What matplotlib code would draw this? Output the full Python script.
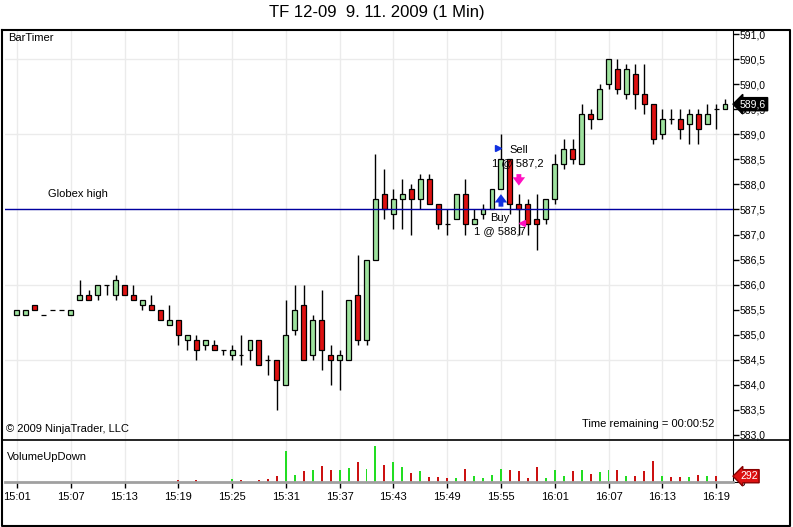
import matplotlib
matplotlib.use('Agg')
import numpy as np
import matplotlib.pyplot as plt
from matplotlib.lines import Line2D
from matplotlib.transforms import blended_transform_factory

# one-minute bars, 15:01 .. 16:20
opens = [585.4, 585.4, 585.6, 585.4, 585.5, 585.5, 585.4, 585.7, 585.8, 585.8,
         586.0, 585.8, 586.0, 585.8, 585.6, 585.6, 585.5, 585.2, 585.3, 584.9,
         584.9, 584.8, 584.8, 584.7, 584.6, 584.6, 584.7, 584.9, 584.5, 584.5,
         584.0, 585.1, 585.6, 584.6, 585.3, 584.6, 584.5, 584.5, 585.8, 584.9,
         586.5, 587.8, 587.4, 587.7, 587.9, 587.7, 588.1, 587.6, 587.2, 587.3,
         587.8, 587.2, 587.4, 587.5, 587.9, 588.5, 587.6, 587.6, 587.3, 587.3,
         587.7, 588.4, 588.7, 588.4, 589.4, 589.3, 590.0, 590.3, 589.8, 590.2,
         589.8, 589.6, 589.0, 589.3, 589.3, 589.2, 589.4, 589.2, 589.5, 589.5]
highs = [585.5, 585.5, 585.6, 585.4, 585.5, 585.5, 585.5, 586.1, 585.9, 586.0,
         586.0, 586.2, 586.0, 586.0, 585.7, 585.8, 585.5, 585.6, 585.3, 585.0,
         585.0, 584.9, 584.9, 584.7, 584.8, 585.0, 584.9, 584.9, 584.6, 584.5,
         585.7, 586.0, 586.0, 585.4, 585.9, 584.8, 584.7, 585.7, 586.6, 586.5,
         588.6, 588.3, 587.9, 588.1, 588.0, 588.2, 588.2, 587.6, 587.5, 587.8,
         588.1, 587.5, 587.6, 587.9, 589.0, 588.5, 587.8, 587.7, 587.8, 587.7,
         588.6, 588.9, 588.9, 589.6, 589.5, 590.0, 590.5, 590.5, 590.4, 590.4,
         590.4, 589.6, 589.5, 589.5, 589.5, 589.5, 589.5, 589.6, 589.6, 589.7]
lows = [585.4, 585.4, 585.5, 585.4, 585.5, 585.5, 585.4, 585.7, 585.7, 585.7,
        585.8, 585.7, 585.8, 585.7, 585.5, 585.5, 585.3, 585.2, 584.8, 584.7,
        584.5, 584.7, 584.7, 584.6, 584.5, 584.4, 584.5, 584.4, 584.2, 583.5,
        584.0, 585.0, 584.5, 584.5, 584.3, 584.0, 583.9, 584.5, 584.8, 584.8,
        586.5, 587.3, 587.1, 587.1, 587.0, 587.5, 587.6, 587.1, 587.0, 587.3,
        587.0, 587.2, 587.3, 587.5, 587.9, 587.4, 587.0, 587.0, 586.7, 587.2,
        587.6, 588.3, 588.4, 588.4, 589.1, 589.3, 589.9, 589.8, 589.7, 589.5,
        589.4, 588.8, 588.9, 589.2, 588.9, 588.8, 588.8, 589.2, 589.1, 589.5]
closes = [585.5, 585.5, 585.5, 585.4, 585.5, 585.5, 585.5, 585.8, 585.7, 586.0,
          586.0, 586.1, 585.8, 585.7, 585.7, 585.5, 585.3, 585.3, 585.0, 585.0,
          584.7, 584.9, 584.7, 584.7, 584.7, 584.6, 584.9, 584.4, 584.5, 584.1,
          585.0, 585.5, 584.5, 585.3, 584.7, 584.5, 584.6, 585.7, 584.9, 586.5,
          587.7, 587.5, 587.7, 587.8, 587.7, 588.1, 587.6, 587.2, 587.2, 587.8,
          587.2, 587.3, 587.5, 587.9, 588.5, 587.6, 587.5, 587.2, 587.2, 587.7,
          588.4, 588.7, 588.5, 589.4, 589.3, 589.9, 590.5, 589.9, 590.3, 589.8,
          589.6, 588.9, 589.3, 589.3, 589.1, 589.4, 589.1, 589.4, 589.5, 589.6]
# volume for the finished bars (15:01 .. 16:19)
volumes = [0, 0, 0, 0, 0, 0, 0, 0, 0, 0,
           0, 0, 0, 0, 0, 0, 0, 0, 85, 0,
           85, 0, 0, 0, 136, 85, 0, 85, 136, 289,
           1581, 340, 561, 595, 816, 595, 595, 714, 1003, 646,
           1819, 867, 1010, 748, 459, 544, 238, 238, 187, 187,
           646, 306, 187, 357, 646, 595, 544, 187, 748, 187,
           595, 306, 544, 595, 408, 510, 595, 595, 306, 306,
           544, 1054, 306, 238, 238, 238, 357, 306, 292]
tick_labels = ['15:01', '15:07', '15:13', '15:19', '15:25', '15:31', '15:37',
               '15:43', '15:49', '15:55', '16:01', '16:07', '16:13', '16:19']
globex_high = 587.5
last_price = 589.6
last_volume = 292

W, H = 793, 527
UP, DOWN = '#9ee29e', '#dd1111'
VUP, VDOWN = '#22dd22', '#cc1111'
FONT = ['Liberation Sans', 'DejaVu Sans']
plt.rcParams['font.family'] = FONT
TXT = 8

fig = plt.figure(figsize=(W / 100, H / 100), dpi=100)


def px_axes(x0, y0, x1, y1):
    return fig.add_axes([x0 / W, 1 - y1 / H, (x1 - x0) / W, (y1 - y0) / H])


ax = px_axes(5, 30, 733, 439)
axv = px_axes(5, 440, 733, 482)

bars = np.arange(1, len(opens) + 1)
o, h, l, c = map(np.array, (opens, highs, lows, closes))
tick_pos = bars[::6][:len(tick_labels)]

# grid
for a in (ax, axv):
    for t in tick_pos:
        a.axvline(t, color='#ebebeb', lw=1, zorder=0)
for lvl in np.arange(584.5, 591, 1.5):
    ax.axhline(lvl, color='#ebebeb', lw=1, zorder=0)

# candles
ax.vlines(bars, l, h, color='black', lw=1, zorder=2)
ax.bar(bars, np.abs(c - o), bottom=np.minimum(o, c), width=0.55,
       color=np.where(c > o, UP, DOWN), edgecolor='black', linewidth=0.9, zorder=3)

ax.axhline(globex_high, color='#0000a0', lw=1, zorder=4)

ax.set_xlim(-0.333, 80.89)
ax.set_ylim(582.92, 591.08)
ax.set_xticks(tick_pos)
ax.tick_params(axis='x', length=0, labelbottom=False)
ax.yaxis.tick_right()
yt = np.arange(583.0, 591.01, 0.5)
ax.set_yticks(yt, [f'{v:.1f}'.replace('.', ',') for v in yt])
ax.tick_params(axis='y', direction='out', length=4, width=1, pad=1, labelsize=7.5)
for s in ('left', 'top', 'bottom'):
    ax.spines[s].set_visible(False)

# trade markers
ax.annotate('', xy=(55, 587.86), xytext=(55, 587.5),
            arrowprops=dict(arrowstyle='simple,head_width=0.9,head_length=0.6,tail_width=0.35',
                            color='#1030e0', lw=0), zorder=5)
ax.annotate('', xy=(57, 587.92), xytext=(57, 588.26),
            arrowprops=dict(arrowstyle='simple,head_width=0.9,head_length=0.6,tail_width=0.35',
                            color='#ff10c0', lw=0), zorder=5)
ax.plot(54.7, 588.72, marker='>', color='#1030e0', ms=5, zorder=5)
ax.plot(57.4, 587.22, marker='<', color='#ff10c0', ms=5, zorder=5)
ax.text(56.0, 588.68, 'Sell', fontsize=TXT, va='center', zorder=6)
ax.text(54.0, 588.43, '1 @ 587,2', fontsize=TXT, va='center', zorder=6)
ax.text(53.8, 587.33, 'Buy', fontsize=TXT, va='center', zorder=6)
ax.text(52.0, 587.07, '1 @ 588,7', fontsize=TXT, va='center', zorder=6)

ax.text(4.5, 587.81, 'Globex high', fontsize=TXT, va='center')
ax.text(0.004, 0.98, 'BarTimer', fontsize=TXT, va='center', transform=ax.transAxes)
ax.text(0.002, 0.024, '\u00a9 2009 NinjaTrader, LLC', fontsize=TXT, va='center',
        transform=ax.transAxes)
ax.text(0.975, 0.037, 'Time remaining = 00:00:52', fontsize=TXT, va='center', ha='right',
        transform=ax.transAxes)

tr = blended_transform_factory(ax.transAxes, ax.transData)
ax.annotate(f'{last_price:.1f}'.replace('.', ','), xy=(1, last_price), xycoords=tr,
            xytext=(5, 0), textcoords='offset points', va='center', ha='left',
            color='white', fontsize=7.5, annotation_clip=False, zorder=10,
            bbox=dict(boxstyle='larrow,pad=0.15', fc='black', ec='black'))

# volume panel
vb = bars[:len(volumes)]
axv.bar(vb, volumes, width=0.22, color=np.where(c[:len(volumes)] > o[:len(volumes)], VUP, VDOWN),
        zorder=2)
axv.set_xlim(-0.333, 80.89)
axv.set_ylim(0, 2120)
axv.set_xticks(tick_pos, tick_labels)
axv.tick_params(axis='x', direction='out', length=4, width=1, pad=3, labelsize=8)
axv.yaxis.tick_right()
axv.set_yticks([0], ['0'])
axv.tick_params(axis='y', direction='out', length=4, pad=1, labelsize=7.5)
axv.spines['left'].set_visible(False)
axv.spines['top'].set_visible(False)
axv.spines['bottom'].set_color('#a0a0a0')
axv.spines['bottom'].set_linewidth(2)
axv.text(0.003, 0.6, 'VolumeUpDown', fontsize=TXT, va='center', transform=axv.transAxes)
trv = blended_transform_factory(axv.transAxes, axv.transData)
axv.annotate(str(last_volume), xy=(1, last_volume), xycoords=trv,
             xytext=(5, 0), textcoords='offset points', va='center', ha='left',
             color='white', fontsize=7.5, annotation_clip=False, zorder=10,
             bbox=dict(boxstyle='larrow,pad=0.15', fc='#dd1111', ec='#880000'))

# outer frame
def fig_line(xs, ys, lw=1.5):
    fig.add_artist(Line2D([x / W for x in xs], [1 - y / H for y in ys], color='black', lw=lw))


fig_line([1.5, 789.5, 789.5, 1.5, 1.5], [29.5, 29.5, 525.5, 525.5, 29.5])
fig_line([1.5, 789.5], [439.5, 439.5], lw=1.2)

fig.text(377 / W, 1 - 13 / H, 'TF 12-09  9. 11. 2009 (1 Min)', ha='center', va='center',
         fontsize=12, family=['Liberation Sans Narrow', 'Liberation Sans', 'DejaVu Sans'])

fig.savefig('out.png', dpi=100)
